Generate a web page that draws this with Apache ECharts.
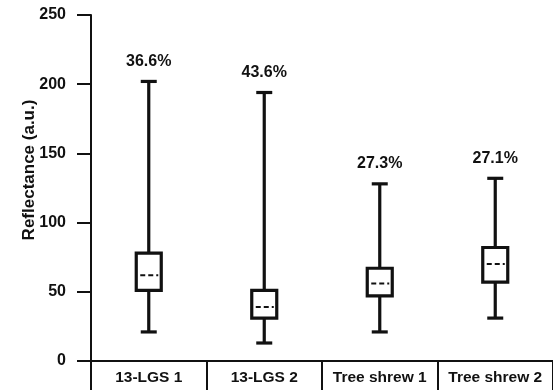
<!DOCTYPE html>
<html>
<head>
<meta charset="utf-8">
<style>
html,body{margin:0;padding:0;background:#fff;}
#chart{width:553px;height:390px;}
</style>
<script src="https://cdn.jsdelivr.net/npm/echarts@6/dist/echarts.min.js"></script>
</head>
<body>
<div id="chart"></div>
<script>
var categories = ['13-LGS 1', '13-LGS 2', 'Tree shrew 1', 'Tree shrew 2'];
var whiskerLow = [21, 13, 21, 31];
var q1 = [51, 31, 47, 57];
var median = [62, 39, 56, 70];
var q3 = [78, 51, 67, 82];
var whiskerHigh = [202, 194, 128, 132];
var pctLabels = ['36.6%', '43.6%', '27.3%', '27.1%'];
var yTicks = [0, 50, 100, 150, 200, 250];
var yTitle = 'Reflectance (a.u.)';

var data = categories.map(function (c, i) {
  return [i, whiskerLow[i], q1[i], median[i], q3[i], whiskerHigh[i]];
});

var INK = '#111';
var FONT = '"Liberation Sans", Arial, sans-serif';

function renderItem(params, api) {
  var i = api.value(0);
  var pLow = api.coord([i, api.value(1)]);
  var pQ1 = api.coord([i, api.value(2)]);
  var pMed = api.coord([i, api.value(3)]);
  var pQ3 = api.coord([i, api.value(4)]);
  var pHigh = api.coord([i, api.value(5)]);
  var x = pLow[0];
  var bw = 25, cw = 16;
  var ls = { stroke: INK, lineWidth: 3.2, fill: null };
  return {
    type: 'group',
    children: [
      { type: 'line', shape: { x1: x, y1: pHigh[1], x2: x, y2: pQ3[1] }, style: ls },
      { type: 'line', shape: { x1: x, y1: pQ1[1], x2: x, y2: pLow[1] }, style: ls },
      { type: 'line', shape: { x1: x - cw / 2, y1: pHigh[1], x2: x + cw / 2, y2: pHigh[1] }, style: ls },
      { type: 'line', shape: { x1: x - cw / 2, y1: pLow[1], x2: x + cw / 2, y2: pLow[1] }, style: ls },
      { type: 'rect', shape: { x: x - bw / 2, y: pQ3[1], width: bw, height: pQ1[1] - pQ3[1] }, style: { stroke: INK, lineWidth: 3.2, fill: '#fff' } },
      { type: 'line', shape: { x1: x - bw / 2 + 3, y1: pMed[1], x2: x + bw / 2 - 3, y2: pMed[1] }, style: { stroke: INK, lineWidth: 2, lineDash: [5, 3], lineDashOffset: -1, fill: null } },
      { type: 'text', x: x, y: pHigh[1] - 20, style: { text: pctLabels[i], fill: INK, font: 'bold 16px ' + FONT, align: 'center', verticalAlign: 'middle' } }
    ]
  };
}

var chart = echarts.init(document.getElementById('chart'));
chart.setOption({
  animation: false,
  backgroundColor: '#fff',
  grid: { left: 91, right: 0, top: 15, bottom: 29 },
  graphic: [{
    type: 'text',
    x: 29,
    y: 170,
    rotation: Math.PI / 2,
    style: { text: yTitle, fill: INK, font: 'bold 17px ' + FONT, align: 'center', verticalAlign: 'middle' }
  }],
  xAxis: {
    type: 'category',
    data: categories,
    boundaryGap: true,
    axisLine: { lineStyle: { color: INK, width: 2 } },
    axisTick: { show: true, interval: 0, length: 30, lineStyle: { color: INK, width: 2 } },
    axisLabel: { interval: 0, color: INK, fontWeight: 'bold', fontSize: 15.5, fontFamily: FONT, margin: 9 }
  },
  yAxis: {
    type: 'value',
    min: 0,
    max: 250,
    interval: 50,
    splitLine: { show: false },
    axisLine: { show: true, lineStyle: { color: INK, width: 2 } },
    axisTick: { show: true, length: 14, lineStyle: { color: INK, width: 2 } },
    axisLabel: {
      color: INK, fontWeight: 'bold', fontSize: 16, fontFamily: FONT, margin: 25,
      formatter: function (v) { return yTicks.indexOf(v) >= 0 ? String(v) : ''; }
    }
  },
  series: [{
    type: 'custom',
    renderItem: renderItem,
    data: data,
    encode: { x: 0, y: [1, 2, 3, 4, 5] },
    clip: false
  }]
});
</script>
</body>
</html>
